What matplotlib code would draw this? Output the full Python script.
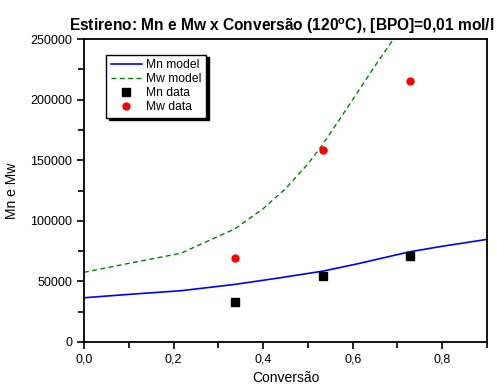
import matplotlib
matplotlib.use('Agg')
import matplotlib.pyplot as plt
from matplotlib.ticker import MultipleLocator, FuncFormatter

plt.rcParams['font.family'] = ['Liberation Sans', 'DejaVu Sans']

# model curves
conv_mn = [0.0, 0.1, 0.216, 0.336, 0.438, 0.535, 0.609, 0.728, 0.8, 0.9]
mn_model = [36500, 39300, 42300, 47500, 53000, 58600, 64400, 74500, 79000, 84700]
conv_mw = [0.0, 0.1, 0.216, 0.336, 0.4, 0.45, 0.5, 0.533, 0.6, 0.65, 0.693, 0.72]
mw_model = [57500, 64900, 73200, 93200, 110000, 126500, 147000, 163000, 200000, 228000, 251000, 265000]

# experimental data
conv_data = [0.337, 0.534, 0.728]
mn_data = [33300, 54500, 71200]
mw_data = [69600, 158200, 215300]

fig = plt.figure(figsize=(4.97, 3.87), dpi=100)
ax = fig.add_axes([0.169, 0.1163, 0.811, 0.7827])

ax.plot(conv_mn, mn_model, color='#0000ff', lw=1.2, label='Mn model')
ax.plot(conv_mw, mw_model, color='#008000', lw=1.0, ls=(0, (3.5, 2.5)), label='Mw model')
ax.plot(conv_data, mn_data, ls='none', marker='s', ms=5.5, color='black', label='Mn data')
ax.plot(conv_data, mw_data, ls='none', marker='o', ms=6, color='#ff0000', mec='none', label='Mw data')

ax.set_xlim(0, 0.9)
ax.set_ylim(0, 250000)
ax.xaxis.set_major_locator(MultipleLocator(0.2))
ax.xaxis.set_minor_locator(MultipleLocator(0.1))
ax.yaxis.set_major_locator(MultipleLocator(50000))
ax.yaxis.set_minor_locator(MultipleLocator(25000))
ax.xaxis.set_major_formatter(FuncFormatter(lambda v, p: ('%.1f' % v).replace('.', ',')))
ax.yaxis.set_major_formatter(FuncFormatter(lambda v, p: '%d' % v))
ax.tick_params(which='both', direction='out', top=False, right=False, labelsize=9, width=1.2)
ax.tick_params(which='major', length=5)
ax.tick_params(which='minor', length=4)
for s in ax.spines.values():
    s.set_linewidth(1.3)

ax.set_xlabel('Conversão', fontsize=10, labelpad=4)
ax.set_ylabel('Mn e Mw', fontsize=10, labelpad=8)
ax.set_title('Estireno: Mn e Mw x Conversão (120$^{\\mathregular{o}}$C), [BPO]=0,01 mol/l',
             fontsize=11.2, fontweight='bold', pad=6, x=0.49)

leg = ax.legend(loc='upper left', bbox_to_anchor=(0.054, 0.949), borderaxespad=0,
                fancybox=False, edgecolor='black', fontsize=8.7, handlelength=2.6,
                labelspacing=0.15, borderpad=0.4, handletextpad=0.3, framealpha=1,
                shadow={'color': 'black', 'alpha': 1})
leg.get_frame().set_linewidth(1.0)

fig.savefig('out.png', dpi=100)
